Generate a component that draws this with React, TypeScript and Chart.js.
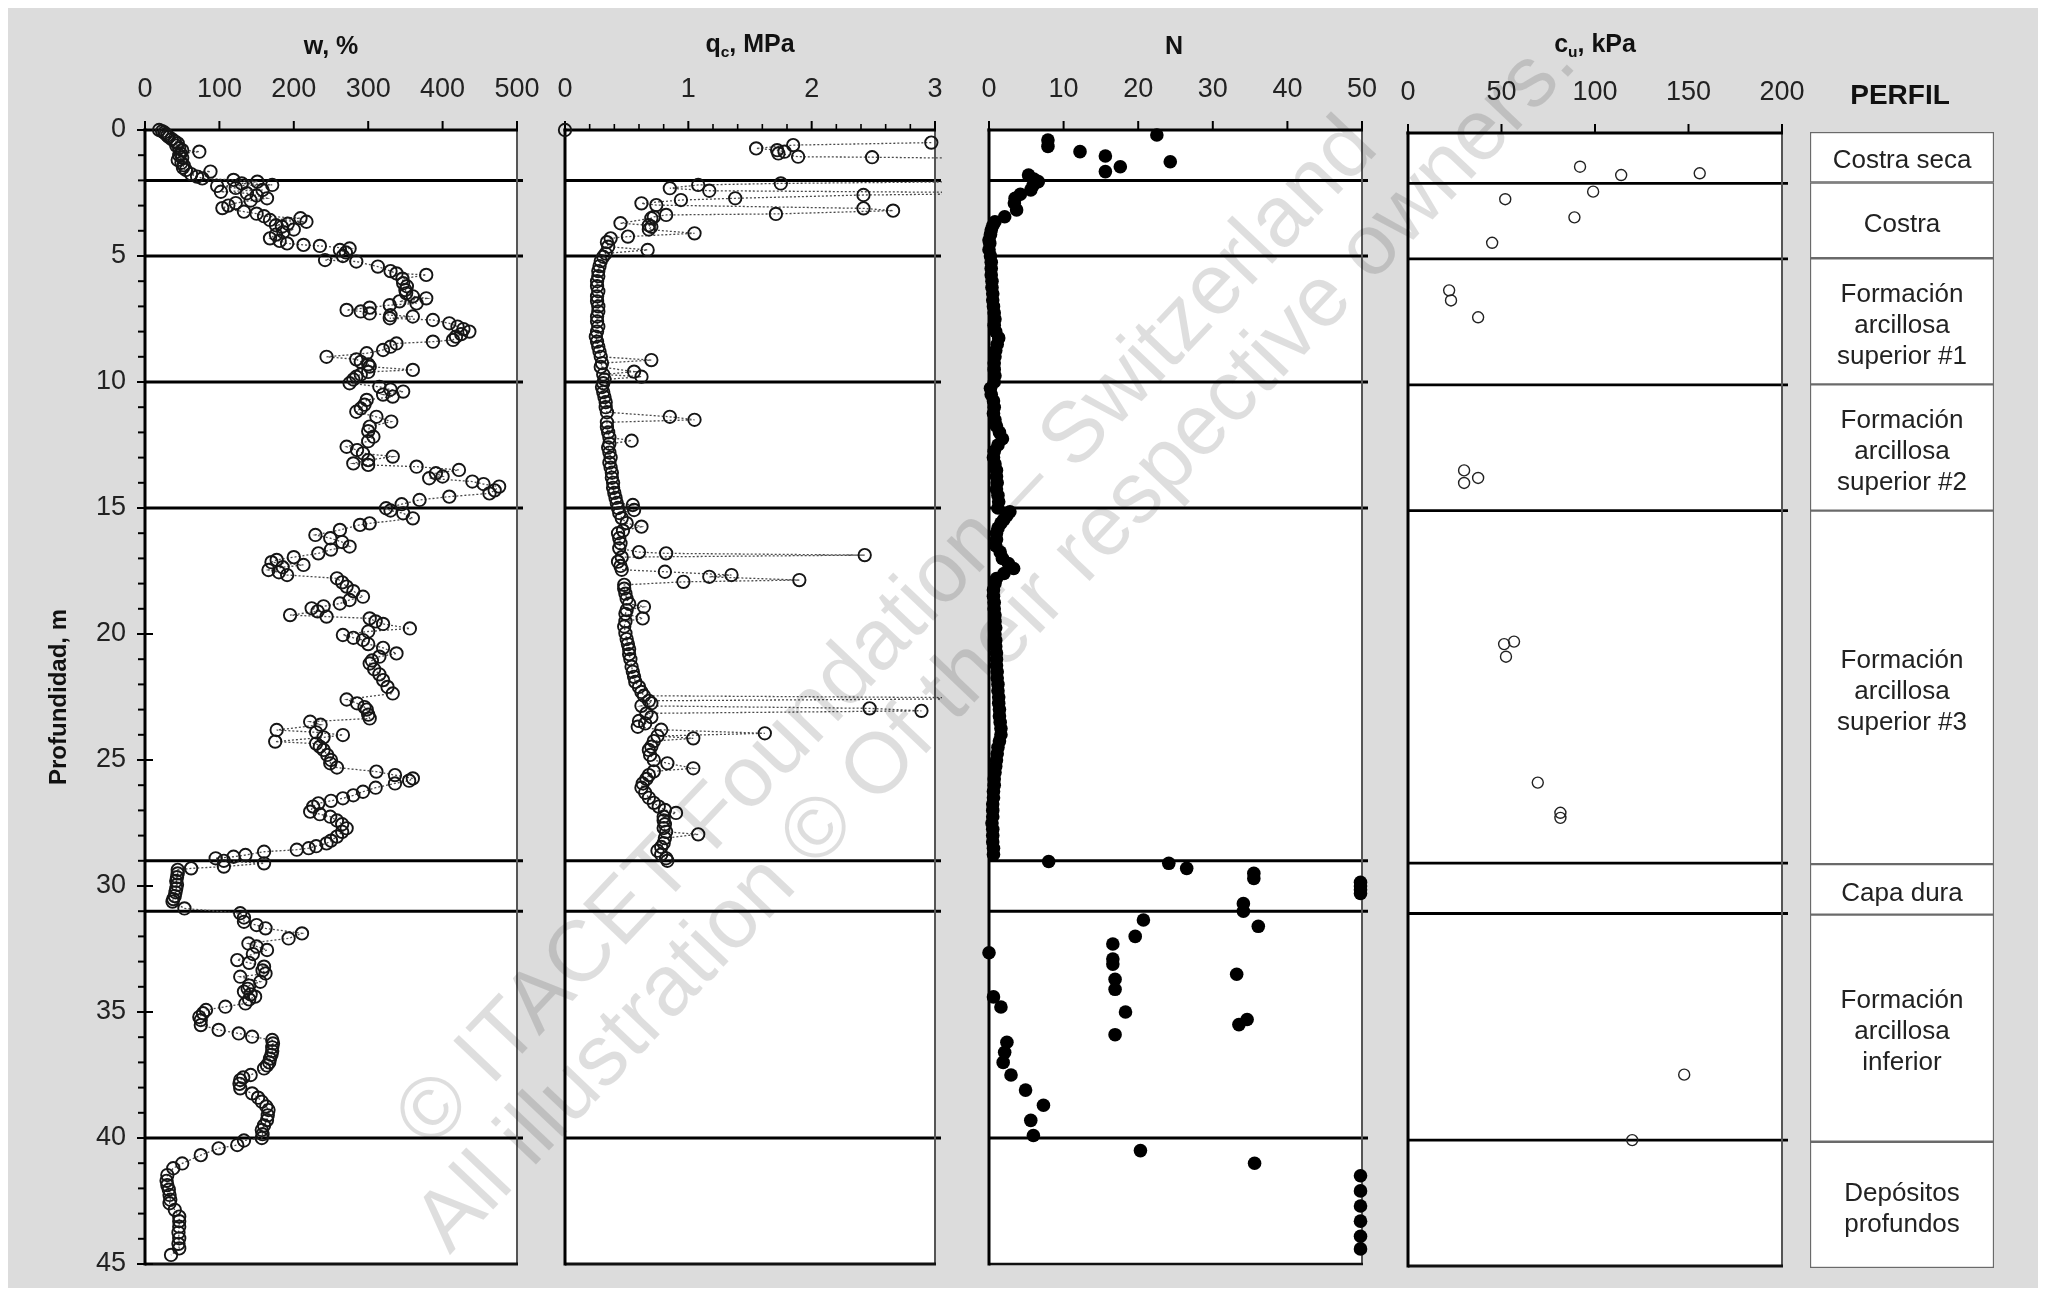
import React, { useEffect, useRef } from "react";
import { Chart, registerables } from "chart.js";

Chart.register(...registerables);

const FONT = "'Liberation Sans', Arial, Helvetica, sans-serif";
const W = 2030;
const H = 1280;
const H1 = 1320; // taller canvas for the depth-axis panel (its tick labels add bottom padding)

// ---------- axis ticks ----------
const depthTicks = [0, 5, 10, 15, 20, 25, 30, 35, 40, 45];
const wTicks = [0, 100, 200, 300, 400, 500];
const qcTicks = [0, 1, 2, 3];
const qcMinorTicks = [0.2, 0.4, 0.6, 0.8, 1.2, 1.4, 1.6, 1.8, 2.2, 2.4, 2.6, 2.8];
const nTicks = [0, 10, 20, 30, 40, 50];
const cuTicks = [0, 50, 100, 150, 200];

// ---------- soil profile ----------
const layerBoundaries = [2, 5, 10, 15, 29, 31, 40];
const layerTops = [0, 2, 5, 10, 15, 29, 31, 40];
const layerBottoms = [2, 5, 10, 15, 29, 31, 40, 45];
const layerNames = [
  "Costra seca",
  "Costra",
  "Formación\narcillosa\nsuperior #1",
  "Formación\narcillosa\nsuperior #2",
  "Formación\narcillosa\nsuperior #3",
  "Capa dura",
  "Formación\narcillosa\ninferior",
  "Depósitos\nprofundos",
];

// ---------- data: [depth m, value] ----------
const wData: number[][] = [
  [0.0,19],[0.05,23],[0.1,26],[0.16,28],[0.22,30],[0.28,32],[0.36,36],[0.45,40],[0.53,44],[0.62,42],[0.72,46],[0.8,50],[0.86,73],[0.93,48],[1.0,46],[1.1,50],[1.19,44],[1.3,49],[1.4,52],[1.5,51],[1.59,55],[1.65,88],[1.75,62],[1.85,70],[1.92,77],[1.98,119],[2.05,151],[2.12,130],[2.18,171],[2.22,97],[2.3,122],[2.38,158],[2.45,102],[2.51,137],[2.6,150],[2.71,164],[2.8,142],[2.9,122],[3.0,112],[3.1,104],[3.24,133],[3.32,150],[3.42,160],[3.5,209],[3.57,168],[3.64,217],[3.72,192],[3.78,176],[3.84,184],[3.95,200],[4.05,186],[4.15,176],[4.3,168],[4.4,181],[4.5,191],[4.56,213],[4.6,235],[4.7,275],[4.76,262],[4.86,270],[5.0,266],[5.16,242],[5.22,284],[5.42,313],[5.6,330],[5.69,338],[5.75,378],[5.9,346],[6.08,347],[6.2,352],[6.35,350],[6.48,351],[6.6,360],[6.68,378],[6.8,342],[6.88,365],[6.95,329],[7.05,302],[7.14,271],[7.2,290],[7.28,302],[7.35,330],[7.4,360],[7.47,329],[7.54,387],[7.67,409],[7.8,420],[7.9,428],[8.0,436],[8.1,425],[8.2,418],[8.33,414],[8.4,387],[8.47,338],[8.6,330],[8.73,320],[8.86,298],[9.0,244],[9.1,284],[9.2,290],[9.3,300],[9.39,302],[9.52,360],[9.6,300],[9.7,290],[9.79,284],[9.9,280],[10.05,275],[10.19,315],[10.3,330],[10.38,347],[10.5,320],[10.58,333],[10.71,298],[10.9,295],[11.05,290],[11.18,284],[11.38,311],[11.57,331],[11.77,302],[11.95,300],[12.17,307],[12.35,300],[12.57,271],[12.7,285],[12.83,293],[12.96,333],[13.1,300],[13.23,280],[13.29,300],[13.36,365],[13.49,422],[13.62,391],[13.75,400],[13.82,382],[13.95,440],[14.05,455],[14.15,476],[14.3,470],[14.42,463],[14.55,409],[14.68,369],[14.85,345],[15.01,324],[15.1,330],[15.21,347],[15.41,360],[15.61,302],[15.67,289],[15.87,262],[16.07,229],[16.2,249],[16.35,265],[16.53,275],[16.65,250],[16.8,233],[16.95,200],[17.06,177],[17.15,170],[17.26,213],[17.35,185],[17.46,166],[17.55,180],[17.66,191],[17.79,258],[17.95,265],[18.12,271],[18.3,280],[18.52,293],[18.65,275],[18.79,262],[18.9,240],[18.98,224],[19.1,232],[19.25,195],[19.31,244],[19.38,302],[19.5,310],[19.6,320],[19.78,356],[19.9,300],[20.04,266],[20.15,280],[20.24,293],[20.4,300],[20.55,320],[20.77,338],[20.9,315],[21.05,305],[21.17,302],[21.4,308],[21.6,315],[21.83,320],[22.1,326],[22.36,333],[22.6,271],[22.75,285],[22.9,295],[23.0,298],[23.2,300],[23.35,302],[23.48,222],[23.6,236],[23.81,177],[23.9,230],[24.01,266],[24.1,240],[24.27,175],[24.35,230],[24.47,235],[24.6,240],[24.8,245],[25.0,250],[25.13,249],[25.3,258],[25.46,311],[25.6,336],[25.73,360],[25.82,355],[25.93,336],[26.1,310],[26.26,293],[26.4,280],[26.52,266],[26.62,250],[26.72,233],[26.85,226],[27.05,222],[27.15,235],[27.25,249],[27.4,258],[27.55,265],[27.71,271],[27.85,265],[28.04,258],[28.2,250],[28.31,244],[28.42,230],[28.5,220],[28.56,204],[28.64,160],[28.77,135],[28.84,119],[28.9,95],[29.0,106],[29.1,160],[29.23,106],[29.3,62],[29.36,44],[29.5,44],[29.65,43],[29.8,42],[29.95,43],[30.1,42],[30.25,41],[30.4,40],[30.52,38],[30.62,37],[30.89,53],[31.08,128],[31.25,133],[31.42,133],[31.55,150],[31.68,162],[31.88,211],[32.08,193],[32.28,139],[32.4,150],[32.54,164],[32.7,145],[32.94,124],[33.05,140],[33.2,160],[33.35,158],[33.47,162],[33.6,128],[33.8,155],[33.95,140],[34.08,138],[34.19,133],[34.3,142],[34.39,148],[34.5,140],[34.66,135],[34.79,108],[34.92,82],[35.05,78],[35.2,73],[35.32,75],[35.52,75],[35.71,99],[35.85,126],[35.98,144],[36.11,171],[36.25,172],[36.4,171],[36.55,171],[36.7,170],[36.85,168],[37.0,167],[37.12,164],[37.24,160],[37.5,142],[37.6,132],[37.7,128],[37.85,127],[38.03,128],[38.23,144],[38.4,152],[38.56,157],[38.75,163],[38.89,166],[39.1,165],[39.29,164],[39.5,160],[39.68,157],[39.85,158],[40.0,157],[40.1,133],[40.28,124],[40.41,99],[40.68,75],[41.01,50],[41.2,38],[41.47,30],[41.7,29],[41.87,30],[42.05,32],[42.26,33],[42.45,34],[42.59,33],[42.85,40],[43.12,46],[43.3,46],[43.52,46],[43.75,45],[43.98,46],[44.2,45],[44.38,46],[44.64,35],
];

const qcSurface: number[][] = [[0.0, 0.0]];
const qcData: number[][] = [
  [0.5,2.97],[0.6,1.85],[0.73,1.55],[0.8,1.72],[0.86,1.78],[0.93,1.73],[1.06,1.89],[1.08,2.49],[1.16,4.0],[2.02,4.0],[2.12,1.75],[2.18,1.08],[2.31,0.85],[2.41,1.17],[2.5,4.0],[2.58,2.42],[2.71,1.38],[2.78,0.94],[2.91,0.62],[2.98,0.74],[3.11,2.42],[3.2,2.66],[3.33,1.71],[3.37,0.82],[3.45,0.72],[3.5,0.7],[3.7,0.45],[3.78,0.68],[3.84,0.7],[3.95,0.68],[4.1,1.05],[4.23,0.51],[4.3,0.37],[4.45,0.34],[4.63,0.35],[4.76,0.67],[4.9,0.33],[5.03,0.31],
  [5.2,0.29],[5.4,0.28],[5.6,0.27],[5.8,0.27],[6.0,0.26],[6.2,0.26],[6.4,0.27],[6.6,0.26],[6.8,0.26],[7.0,0.27],[7.2,0.27],[7.4,0.26],[7.6,0.26],[7.8,0.27],[8.0,0.26],[8.2,0.25],[8.4,0.26],[8.6,0.27],[8.8,0.28],[9.0,0.29],[9.13,0.7],[9.25,0.3],[9.4,0.29],[9.59,0.56],[9.7,0.31],[9.79,0.62],[9.9,0.32],[10.05,0.31],[10.2,0.3],[10.4,0.31],[10.6,0.32],[10.8,0.33],[11.0,0.33],[11.2,0.34],[11.38,0.85],[11.5,1.05],[11.6,0.34],[11.8,0.34],[12.0,0.35],[12.2,0.36],[12.33,0.54],[12.45,0.36],[12.6,0.35],[12.8,0.36],[13.0,0.37],[13.2,0.36],[13.4,0.37],[13.6,0.38],[13.8,0.38],[14.0,0.39],[14.2,0.39],[14.4,0.4],[14.6,0.41],[14.8,0.42],[14.88,0.55],[15.0,0.43],[15.08,0.56],[15.2,0.44],[15.4,0.46],[15.6,0.5],[15.74,0.62],[15.9,0.47],[16.0,0.43],[16.2,0.44],[16.4,0.45],[16.6,0.44],[16.75,0.6],[16.8,0.82],[16.87,2.43],[16.95,0.46],[17.13,0.43],[17.3,0.45],[17.45,0.46],[17.53,0.81],[17.66,1.35],[17.73,1.17],[17.86,1.9],[17.93,0.96],[18.05,0.48],[18.2,0.48],[18.4,0.49],[18.6,0.5],[18.8,0.52],[18.92,0.64],[19.05,0.5],[19.2,0.49],[19.38,0.63],[19.5,0.49],[19.7,0.48],[19.97,0.49],[20.2,0.5],[20.4,0.51],[20.6,0.52],[20.8,0.52],[21.0,0.53],[21.3,0.54],[21.5,0.55],[21.7,0.56],[21.9,0.57],[22.1,0.6],[22.3,0.62],[22.45,0.64],[22.55,4.0],[22.65,0.68],[22.75,0.7],[22.85,0.62],[22.95,2.47],[23.05,2.89],[23.15,0.66],[23.3,0.7],[23.45,0.6],[23.55,0.65],[23.68,0.59],[23.8,0.78],[23.94,1.62],[24.05,0.75],[24.14,1.04],[24.25,0.72],[24.47,0.7],[24.6,0.68],[24.8,0.69],[25.0,0.72],[25.13,0.83],[25.33,1.04],[25.45,0.72],[25.6,0.68],[25.75,0.66],[25.93,0.63],[26.1,0.62],[26.3,0.65],[26.5,0.68],[26.7,0.72],[26.85,0.76],[26.98,0.81],[27.1,0.9],[27.25,0.8],[27.4,0.8],[27.55,0.81],[27.7,0.8],[27.85,0.82],[27.95,1.08],[28.1,0.81],[28.3,0.8],[28.45,0.78],[28.6,0.75],[28.75,0.78],[28.9,0.82],[29.0,0.83],
];

const nData: number[][] = [
  [0.2,22.5],[0.4,7.9],[0.65,7.9],[0.86,12.2],[1.03,15.6],[1.26,24.3],[1.46,17.6],[1.65,15.6],[1.79,5.3],[1.95,6.0],[2.05,6.6],[2.2,5.9],[2.38,5.6],[2.55,4.2],[2.71,3.5],[2.9,3.4],[3.17,3.7],[3.44,2.1],[3.64,0.8],[3.8,0.5],[3.97,0.3],[4.15,0.2],[4.37,0.0],
  [4.5,0.1],[4.75,0.0],[5.0,0.2],[5.25,0.3],[5.5,0.3],[5.75,0.3],[6.0,0.4],[6.25,0.4],[6.5,0.5],[6.75,0.5],[7.0,0.6],[7.25,0.7],[7.5,0.8],[7.75,0.7],[8.0,0.9],[8.25,1.3],[8.5,1.1],[8.75,0.9],[9.0,0.8],[9.25,0.7],[9.5,0.7],[9.75,0.8],[10.0,0.7],[10.25,0.2],[10.5,0.3],[10.75,0.6],[11.0,0.7],[11.25,0.6],[11.5,0.8],[11.75,1.0],[12.0,1.4],[12.25,1.8],[12.5,1.2],[12.75,0.7],[13.0,0.6],[13.25,0.8],[13.5,1.0],[13.75,1.0],[14.0,1.1],[14.25,1.0],[14.5,1.2],[14.75,1.3],[15.0,1.2],[15.15,2.8],[15.3,2.4],[15.45,2.0],[15.6,1.6],[15.8,1.2],[16.0,1.0],[16.25,1.0],[16.5,0.9],[16.75,1.5],[17.0,1.8],[17.2,2.6],[17.4,3.3],[17.6,2.0],[17.8,1.0],[18.0,0.8],[18.25,0.6],[18.5,0.6],[18.75,0.7],[19.0,0.7],[19.25,0.8],[19.5,0.8],[19.75,0.9],[20.0,0.8],[20.25,0.9],[20.5,0.9],[20.75,1.0],[21.0,1.0],[21.25,1.0],[21.5,1.1],[21.75,1.1],[22.0,1.2],[22.25,1.2],[22.5,1.3],[22.75,1.3],[23.0,1.4],[23.25,1.4],[23.5,1.5],[23.75,1.6],[24.0,1.6],[24.25,1.4],[24.5,1.2],[24.75,1.1],[25.0,1.0],[25.25,0.9],[25.5,0.8],[25.75,0.7],[26.0,0.7],[26.25,0.6],[26.5,0.6],[26.75,0.5],[27.0,0.5],[27.25,0.5],[27.5,0.4],[27.75,0.5],[28.0,0.5],[28.25,0.5],[28.5,0.6],[28.75,0.6],
  [29.03,8.0],[29.1,24.1],[29.3,26.5],[29.5,35.5],[29.7,35.5],[29.85,49.8],[30.0,49.8],[30.15,49.8],[30.3,49.8],[30.7,34.1],[31.0,34.1],[31.35,20.7],[31.6,36.1],[32.0,19.6],[32.3,16.6],[32.65,0.0],[32.9,16.6],[33.1,16.6],[33.5,33.2],[33.7,16.9],[34.1,16.9],[34.4,0.6],[34.8,1.6],[35.0,18.3],[35.3,34.6],[35.5,33.5],[35.9,16.9],[36.2,2.4],[36.6,2.1],[37.0,1.9],[37.5,2.95],[38.1,4.9],[38.7,7.3],[39.3,5.6],[39.9,5.95],[40.5,20.3],[41.0,35.6],[41.5,49.8],[42.1,49.8],[42.7,49.8],[43.3,49.8],[43.9,49.8],[44.4,49.8],
];

const cuData: number[][] = [
  [1.34,92],[1.67,114],[1.6,156],[2.33,99],[2.63,52],[3.35,89],[4.36,45],[6.25,22],[6.65,23],[7.32,37.5],[13.4,30],[13.7,37.5],[13.9,30],[20.2,56.7],[20.3,51.4],[20.8,52.4],[25.8,69.4],[27.0,81.5],[27.2,81.5],[37.4,147.7],[40.0,119.9],
];

// ---------- plugins ----------
const framePlugin: any = {
  id: "frame",
  beforeDraw(chart: any) {
    const { ctx, chartArea: a } = chart;
    ctx.save();
    ctx.fillStyle = "#ffffff";
    ctx.fillRect(a.left, a.top, a.right - a.left, a.bottom - a.top);
    ctx.restore();
  },
  beforeDatasetsDraw(chart: any, _args: any, o: any) {
    const { ctx, chartArea: a } = chart;
    const xs = chart.scales.x;
    const ys = chart.scales.y;
    ctx.save();
    ctx.lineCap = "butt";
    // layer boundaries
    ctx.strokeStyle = "#000";
    ctx.lineWidth = o.layerWidth;
    for (const d of layerBoundaries) {
      const y = ys.getPixelForValue(d);
      ctx.beginPath();
      ctx.moveTo(a.left, y);
      ctx.lineTo(a.right + 6, y);
      ctx.stroke();
    }
    // right border
    ctx.strokeStyle = "#555";
    ctx.lineWidth = 2;
    ctx.beginPath();
    ctx.moveTo(a.right, a.top);
    ctx.lineTo(a.right, a.bottom);
    ctx.stroke();
    // bottom border
    ctx.strokeStyle = "#111";
    ctx.lineWidth = o.bottomWidth;
    ctx.beginPath();
    ctx.moveTo(a.left, a.bottom);
    ctx.lineTo(a.right + 1, a.bottom);
    ctx.stroke();
    // left border
    ctx.strokeStyle = "#000";
    ctx.lineWidth = 3;
    ctx.beginPath();
    ctx.moveTo(a.left, a.top - 1.5);
    ctx.lineTo(a.left, a.bottom + 1.5);
    ctx.stroke();
    // top border
    ctx.beginPath();
    ctx.moveTo(a.left - 1.5, a.top);
    ctx.lineTo(a.right + 1, a.top);
    ctx.stroke();
    // top ticks
    ctx.lineWidth = 2;
    for (const v of o.xTicks) {
      const x = xs.getPixelForValue(v);
      ctx.beginPath();
      ctx.moveTo(x, a.top);
      ctx.lineTo(x, a.top - 9);
      ctx.stroke();
    }
    ctx.lineWidth = 1.6;
    for (const v of o.xMinor) {
      const x = xs.getPixelForValue(v);
      ctx.beginPath();
      ctx.moveTo(x, a.top);
      ctx.lineTo(x, a.top - 6);
      ctx.stroke();
    }
    // depth ticks
    if (o.leftTicks) {
      for (let d = 0; d <= 45; d++) {
        const y = ys.getPixelForValue(d);
        const major = d % 5 === 0;
        ctx.lineWidth = 2;
        ctx.beginPath();
        ctx.moveTo(a.left - (major ? 8 : 7), y);
        ctx.lineTo(a.left + (major ? 8 : 0), y);
        ctx.stroke();
      }
    }
    ctx.restore();
  },
};

const profileLabels: any = {
  id: "profileLabels",
  afterDatasetsDraw(chart: any) {
    const { ctx } = chart;
    ctx.save();
    ctx.fillStyle = "#222";
    ctx.font = `26px ${FONT}`;
    ctx.textAlign = "center";
    ctx.textBaseline = "middle";
    chart.data.datasets.forEach((ds: any, i: number) => {
      const el: any = chart.getDatasetMeta(i).data[0];
      const cy = (el.y + el.base) / 2 + 4;
      const lines = String(ds.label).split("\n");
      lines.forEach((ln: string, k: number) => {
        ctx.fillText(ln, el.x, cy + (k - (lines.length - 1) / 2) * 31);
      });
    });
    ctx.restore();
  },
};

// ---------- config builders ----------
const AXIS_H = 60;
const Y_W = 100;

type PanelSpec = {
  left: number;
  right: number;
  top: number;
  bottom: number;
  canvasH: number;
  xMin: number;
  xMax: number;
  xTicks: number[];
  xMinor?: number[];
  datasets: any[];
  showY?: boolean;
  layerWidth?: number;
  bottomWidth?: number;
};

function toXY(arr: number[][]) {
  return arr.map(([d, v]) => ({ x: v, y: d }));
}

function panelConfig(p: PanelSpec): any {
  return {
    type: "scatter",
    data: { datasets: p.datasets },
    options: {
      animation: false,
      responsive: false,
      devicePixelRatio: 1,
      events: [],
      layout: {
        padding: {
          left: p.left - (p.showY ? Y_W : 0),
          right: W - p.right,
          top: p.top - AXIS_H,
          bottom: p.canvasH - p.bottom,
        },
      },
      plugins: {
        legend: { display: false },
        tooltip: { enabled: false },
        frame: {
          xTicks: p.xTicks,
          xMinor: p.xMinor || [],
          leftTicks: !!p.showY,
          layerWidth: p.layerWidth ?? 3,
          bottomWidth: p.bottomWidth ?? 3,
        },
      },
      scales: {
        x: {
          type: "linear",
          position: "top",
          min: p.xMin,
          max: p.xMax,
          afterBuildTicks: (s: any) => {
            s.ticks = p.xTicks.map((v) => ({ value: v }));
          },
          afterFit: (s: any) => {
            s.height = AXIS_H;
          },
          grid: { display: false, drawTicks: false, tickLength: 0 },
          border: { display: false },
          ticks: {
            autoSkip: false,
            maxRotation: 0,
            padding: 24,
            color: "#222",
            font: { family: FONT, size: 27 },
          },
        },
        y: {
          type: "linear",
          reverse: true,
          min: 0,
          max: 45,
          display: !!p.showY,
          afterBuildTicks: (s: any) => {
            s.ticks = depthTicks.map((v) => ({ value: v }));
          },
          afterFit: (s: any) => {
            s.width = p.showY ? Y_W : 0;
          },
          grid: { display: false, drawTicks: false, tickLength: 0 },
          border: { display: false },
          ticks: { padding: 19, color: "#222", font: { family: FONT, size: 27 } },
          title: {
            display: !!p.showY,
            text: "Profundidad, m",
            color: "#111",
            padding: 0,
            font: { family: FONT, size: 24, weight: "bold" },
          },
        },
      },
    },
    plugins: [framePlugin],
  };
}

function profileConfig(): any {
  return {
    type: "bar",
    data: {
      labels: ["PERFIL"],
      datasets: layerNames.map((name, i) => ({
        label: name,
        data: [[layerTops[i], layerBottoms[i]]],
        backgroundColor: "#ffffff",
        borderColor: "#6a6a6a",
        borderWidth: 1.5,
        borderSkipped: false,
        grouped: false,
        barPercentage: 1,
        categoryPercentage: 1,
      })),
    },
    options: {
      animation: false,
      responsive: false,
      devicePixelRatio: 1,
      events: [],
      layout: { padding: { left: 1802, right: W - 1986, top: 124, bottom: H - 1260 } },
      plugins: { legend: { display: false }, tooltip: { enabled: false } },
      scales: {
        x: { display: false },
        y: { display: false, reverse: true, min: 0, max: 45 },
      },
    },
    plugins: [profileLabels],
  };
}

const openCircleLine = (data: number[][], clip: any) => ({
  data: toXY(data),
  showLine: true,
  borderColor: "#4a4a4a",
  borderWidth: 1.3,
  borderDash: [2, 2],
  pointRadius: 6.2,
  pointBorderWidth: 1.9,
  pointBorderColor: "#151515",
  pointBackgroundColor: "rgba(0,0,0,0)",
  clip,
});

function Title({ x, y, size = 25, children }: { x: number; y: number; size?: number; children: any }) {
  return (
    <div
      style={{
        position: "absolute",
        left: x,
        top: y,
        transform: "translate(-50%, -50%)",
        font: `bold ${size}px ${FONT}`,
        color: "#111",
        whiteSpace: "nowrap",
      }}
    >
      {children}
    </div>
  );
}

const sub: React.CSSProperties = { fontSize: "0.62em", verticalAlign: "-0.3em" };

export default function App() {
  const r1 = useRef<HTMLCanvasElement>(null);
  const r2 = useRef<HTMLCanvasElement>(null);
  const r3 = useRef<HTMLCanvasElement>(null);
  const r4 = useRef<HTMLCanvasElement>(null);
  const r5 = useRef<HTMLCanvasElement>(null);

  useEffect(() => {
    const charts: Chart[] = [];
    charts.push(
      new Chart(
        r1.current!,
        panelConfig({
          left: 137, right: 509, top: 122, bottom: 1256, canvasH: H1,
          xMin: 0, xMax: 500, xTicks: wTicks, showY: true,
          datasets: [openCircleLine(wData, 10)],
        })
      )
    );
    charts.push(
      new Chart(
        r2.current!,
        panelConfig({
          left: 557, right: 927, top: 122, bottom: 1256, canvasH: H,
          xMin: 0, xMax: 3, xTicks: qcTicks, xMinor: qcMinorTicks,
          datasets: [
            openCircleLine(qcSurface, 10),
            openCircleLine(qcData, { left: 10, top: 10, right: 7, bottom: 10 }),
          ],
        })
      )
    );
    charts.push(
      new Chart(
        r3.current!,
        panelConfig({
          left: 981, right: 1354, top: 122, bottom: 1256, canvasH: H,
          xMin: 0, xMax: 50, xTicks: nTicks, bottomWidth: 2.5,
          datasets: [
            {
              data: toXY(nData),
              showLine: false,
              pointRadius: 6.8,
              pointBorderWidth: 0,
              pointBackgroundColor: "#000",
              clip: 10,
            },
          ],
        })
      )
    );
    charts.push(
      new Chart(
        r4.current!,
        panelConfig({
          left: 1400, right: 1774, top: 125, bottom: 1258, canvasH: H,
          xMin: 0, xMax: 200, xTicks: cuTicks, layerWidth: 2.8,
          datasets: [
            {
              data: toXY(cuData),
              showLine: false,
              pointRadius: 5.5,
              pointBorderWidth: 1.4,
              pointBorderColor: "#222",
              pointBackgroundColor: "rgba(0,0,0,0)",
              clip: 10,
            },
          ],
        })
      )
    );
    charts.push(new Chart(r5.current!, profileConfig()));
    return () => charts.forEach((c) => c.destroy());
  }, []);

  const canvasStyle: React.CSSProperties = { position: "absolute", left: 0, top: 0, width: W, height: H };

  const wm: React.CSSProperties = {
    position: "absolute",
    transform: "translate(-50%, -50%) rotate(-46.5deg)",
    font: `86px ${FONT}`,
    color: "rgba(0,0,0,0.13)",
    whiteSpace: "nowrap",
    pointerEvents: "none",
  };

  return (
    <div
      style={{
        position: "relative",
        width: W,
        height: H,
        background: "#dcdcdc",
        fontFamily: FONT,
        overflow: "hidden",
      }}
    >
      <style>{`html,body{overflow:hidden}`}</style>
      <canvas ref={r1} width={W} height={H1} style={{ ...canvasStyle, height: H1 }} />
      <canvas ref={r2} width={W} height={H} style={canvasStyle} />
      <canvas ref={r3} width={W} height={H} style={canvasStyle} />
      <canvas ref={r4} width={W} height={H} style={canvasStyle} />
      <canvas ref={r5} width={W} height={H} style={canvasStyle} />

      <Title x={323} y={37}>w, %</Title>
      <Title x={742} y={37}>
        q<span style={sub}>c</span>, MPa
      </Title>
      <Title x={1166} y={37}>N</Title>
      <Title x={1587} y={37}>
        c<span style={sub}>u</span>, kPa
      </Title>
      <Title x={1892} y={87} size={28}>PERFIL</Title>

      <div style={{ ...wm, left: 876, top: 622 }}>© ITACET Foundation – Switzerland</div>
      <div style={{ ...wm, left: 985, top: 632 }}>All illustration © Of their respective owners.</div>
    </div>
  );
}
